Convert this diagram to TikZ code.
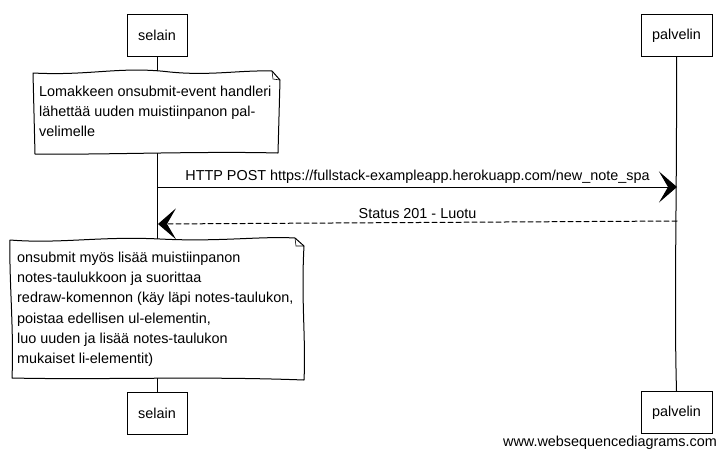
\documentclass[tikz,border=0pt]{standalone}
\usepackage{fontspec}
\setmainfont{Liberation Sans}
\usetikzlibrary{arrows.meta}
\begin{document}
\begin{tikzpicture}[x=1pt,y=-1pt,
  font=\fontsize{14.4}{20.3}\selectfont,
  hand/.style={line width=1pt, line join=round, line cap=round},
  actor/.style={draw, line width=1pt, fill=white, minimum height=42pt, inner sep=0pt},
  notetext/.style={anchor=north west, align=left, inner sep=0pt},
  bighead/.style={-{Stealth[length=18pt,width=31pt,inset=9pt]}},
  msglabel/.style={font=\fontsize{14.4}{16}\selectfont}]
\useasboundingbox (0,0) rectangle (725,459);

% actors
\node[actor, minimum width=60pt] (selTop) at (157,35.5) {selain};
\node[actor, minimum width=71pt] (palTop) at (676.5,35.5) {palvelin};
\node[actor, minimum width=60pt] (selBot) at (157,413.5) {selain};
\node[actor, minimum width=71pt] (palBot) at (676.5,412.5) {palvelin};

% lifelines
\draw[hand] (selTop.south) -- (selBot.north);
\draw[hand] (palTop.south) .. controls (677,200) and (674,300) .. (palBot.north);

% note 1
\coordinate (n1a) at (33,73);
\coordinate (n1b) at (272,71);
\coordinate (n1c) at (280,80);
\coordinate (n1d) at (278,153);
\coordinate (n1e) at (35,154);
\filldraw[hand, fill=white] (n1a) .. controls (90,76) and (120,66) .. (170,72)
  .. controls (210,76) and (240,70) .. (n1b) -- (n1c) -- (n1d)
  .. controls (200,151) and (100,155) .. (n1e) -- cycle;
\draw[line width=0.6pt] (n1b) -- (273,79) -- (n1c);
\node[notetext] (note1) at (39,85.5) {Lomakkeen onsubmit-event handleri\\lähettää uuden muistiinpanon pal-\\velimelle};

% message 1
\coordinate (m1s) at (158,187);
\coordinate (m1e) at (677,187);
\draw[hand, bighead] (m1s) -- (m1e)
  node[msglabel, midway, above=0pt] (lab1) {HTTP POST https://fullstack-exampleapp.herokuapp.com/new\_note\_spa};

% message 2
\coordinate (m2s) at (677,221);
\coordinate (m2e) at (158,224);
\draw[hand, dashed, dash pattern=on 5pt off 3pt, bighead] (m2s) -- (m2e)
  node[msglabel, midway, above=0pt] (lab2) {Status 201 - Luotu};

% note 2
\coordinate (n2a) at (10,240);
\coordinate (n2b) at (295,238);
\coordinate (n2c) at (304,246);
\coordinate (n2d) at (304,380);
\coordinate (n2e) at (12,378);
\filldraw[hand, fill=white] (n2a) .. controls (60,244) and (100,236) .. (160,239)
  .. controls (220,242) and (260,236) .. (n2b) -- (n2c)
  .. controls (301,300) and (306,340) .. (n2d)
  .. controls (200,376) and (100,380) .. (n2e)
  .. controls (14,330) and (9,280) .. cycle;
\draw[line width=0.6pt] (n2b) -- (296,246) -- (n2c);
\node[notetext] (note2) at (17,251.5) {onsubmit myös lisää muistiinpanon\\notes-taulukkoon ja suorittaa\\redraw-komennon (käy läpi notes-taulukon,\\poistaa edellisen ul-elementin,\\luo uuden ja lisää notes-taulukon\\mukaiset li-elementit)};

% footer
\node[msglabel] (footer) at (610,443) {www.websequencediagrams.com};
\end{tikzpicture}
\end{document}
